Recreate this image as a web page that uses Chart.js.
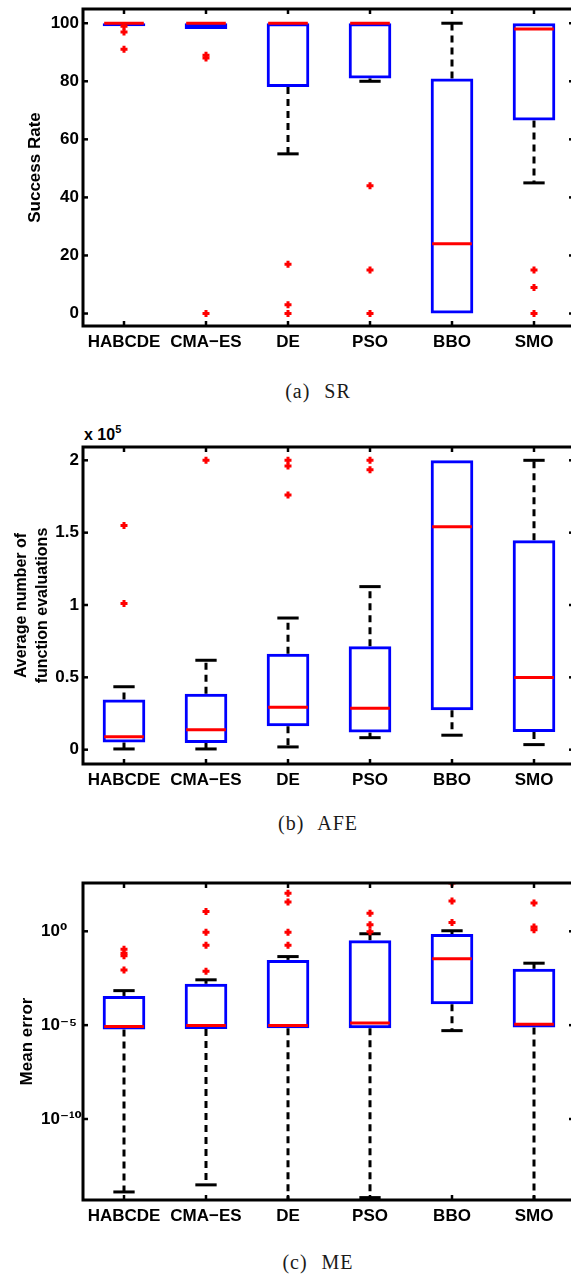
<!DOCTYPE html>
<html><head><meta charset="utf-8">
<script src="https://cdn.jsdelivr.net/npm/chart.js@4.4.0/dist/chart.umd.min.js"></script>
<style>
html,body{margin:0;padding:0;width:571px;height:1277px;overflow:hidden;background:#fff;position:relative;}
canvas{position:absolute;left:0;}
.cap{position:absolute;left:218px;width:200px;text-align:center;font-family:'Liberation Serif','Times New Roman',serif;font-size:20px;line-height:20px;color:#1a1a1a;letter-spacing:1px;word-spacing:8px;white-space:nowrap;}
.mult{position:absolute;left:84px;top:427px;font-family:'Liberation Sans',Arial,sans-serif;font-weight:bold;font-size:16px;line-height:16px;white-space:nowrap;color:#000;}
.mult sup{font-size:11px;position:relative;top:-7px;vertical-align:baseline;}
</style></head><body>
<canvas id="c1" width="576" height="362" style="top:4px;width:576px;height:362px"></canvas>
<div class="cap" style="top:381px">(a) SR</div>
<div class="mult">x 10<sup>5</sup></div>
<canvas id="c2" width="576" height="362" style="top:442px;width:576px;height:362px"></canvas>
<div class="cap" style="top:813px">(b) AFE</div>
<canvas id="c3" width="576" height="362" style="top:878px;width:576px;height:362px"></canvas>
<div class="cap" style="top:1252px">(c) ME</div>
<script>
const categories = ['HABCDE', 'CMA\u2212ES', 'DE', 'PSO', 'BBO', 'SMO'];

// (a) Success Rate
const srLowWhisker  = [100, 98, 55, 80, 0, 45];
const srQ1          = [99, 98, 78, 81, 0, 66.5];
const srMedian      = [100, 100, 100, 100, 24, 98];
const srQ3          = [100, 100, 100, 100, 81, 100];
const srHighWhisker = [100, 100, 100, 100, 100, 100];
const srOutliers    = [[99, 97, 91], [89, 88, 0], [17, 3, 0], [44, 15, 0], [], [15, 9, 0]];
const srTicks       = [0, 20, 40, 60, 80, 100];
const srTickLabels  = ['0', '20', '40', '60', '80', '100'];

// (b) Average number of function evaluations (x 10^5)
const afeLowWhisker  = [0.005, 0.005, 0.019, 0.083, 0.10, 0.035];
const afeQ1          = [0.05, 0.046, 0.162, 0.118, 0.272, 0.122];
const afeMedian      = [0.09, 0.138, 0.293, 0.286, 1.541, 0.498];
const afeQ3          = [0.346, 0.387, 0.663, 0.715, 2.0, 1.447];
const afeHighWhisker = [0.435, 0.618, 0.91, 1.127, 2.0, 2.0];
const afeOutliers    = [[1.55, 1.01], [2.0], [2.0, 1.96, 1.76], [2.0, 1.935], [], []];
const afeTicks       = [0, 0.5, 1, 1.5, 2];
const afeTickLabels  = ['0', '0.5', '1', '1.5', '2'];

// (c) Mean error (log scale)
const meLowWhisker  = [1.3e-14, 3.1e-14, 1e-15, 6.5e-15, 5.1e-6, 1e-15];
const meQ1          = [5.9e-6, 6.3e-6, 6.9e-6, 6.9e-6, 1.3e-4, 7.4e-6];
const meMedian      = [8.5e-6, 9.5e-6, 9.5e-6, 1.3e-5, 0.035, 1.1e-5];
const meQ3          = [3.6e-4, 1.6e-3, 0.03, 0.33, 0.72, 0.01];
const meHighWhisker = [6.9e-4, 2.6e-3, 0.045, 0.74, 1.07, 0.02];
const meOutliers    = [[0.11, 0.068, 0.05, 0.0087], [11.5, 0.89, 0.18, 0.0074], [105, 36, 0.89, 0.18], [9.1, 2.2, 0.95], [370, 41, 2.9], [32, 1.7, 1.2]];
const meTicks       = [1e-10, 1e-5, 1];
const meTickLabels  = ['10\u207B\u00B9\u2070', '10\u207B\u2075', '10\u2070'];

const FONT = "'Liberation Sans', Arial, 'DejaVu Sans', sans-serif";

function buildChart(id, cfg) {
  const axisFont = {family: FONT, size: 17, weight: 'bold'};
  const padLeft = cfg.padLeft || 0;
  const boxParts = {
    id: 'boxParts' + id,
    beforeDatasetsDraw(chart) {
      const ctx = chart.ctx, xs = chart.scales.x, ys = chart.scales.y, ca = chart.chartArea;
      const meta = chart.getDatasetMeta(0);
      ctx.save();
      ctx.beginPath(); ctx.rect(ca.left, ca.top, ca.right - ca.left, ca.bottom - ca.top); ctx.clip();
      ctx.strokeStyle = '#000'; ctx.lineWidth = 3; ctx.lineCap = 'butt';
      cfg.low.forEach((lo, i) => {
        const x = xs.getPixelForValue(i);
        const capHalf = meta.data[i].width / 4;
        const yLo = ys.getPixelForValue(lo), yQ1 = ys.getPixelForValue(cfg.q1[i]);
        const yQ3 = ys.getPixelForValue(cfg.q3[i]), yHi = ys.getPixelForValue(cfg.high[i]);
        ctx.setLineDash([7, 5]);
        if (cfg.high[i] > cfg.q3[i]) { ctx.beginPath(); ctx.moveTo(x, yQ3); ctx.lineTo(x, yHi); ctx.stroke(); }
        if (lo < cfg.q1[i]) { ctx.beginPath(); ctx.moveTo(x, yQ1); ctx.lineTo(x, yLo); ctx.stroke(); }
        ctx.setLineDash([]);
        if (cfg.high[i] > cfg.q3[i]) { ctx.beginPath(); ctx.moveTo(x - capHalf, yHi); ctx.lineTo(x + capHalf, yHi); ctx.stroke(); }
        if (lo < cfg.q1[i]) { ctx.beginPath(); ctx.moveTo(x - capHalf, yLo); ctx.lineTo(x + capHalf, yLo); ctx.stroke(); }
      });
      ctx.restore();
    },
    afterDatasetDraw(chart, args) {
      if (args.index !== 0) return;
      const ctx = chart.ctx, xs = chart.scales.x, ys = chart.scales.y;
      const meta = chart.getDatasetMeta(0);
      ctx.save();
      ctx.strokeStyle = '#ff0000'; ctx.lineWidth = 3;
      cfg.med.forEach((m, i) => {
        const x = xs.getPixelForValue(i), half = meta.data[i].width / 2 - 1.5;
        const y = ys.getPixelForValue(m);
        ctx.beginPath(); ctx.moveTo(x - half, y); ctx.lineTo(x + half, y); ctx.stroke();
      });
      ctx.restore();
    },
    afterDraw(chart) {
      const ctx = chart.ctx, xs = chart.scales.x, ys = chart.scales.y, ca = chart.chartArea;
      ctx.save();
      ctx.strokeStyle = '#000'; ctx.lineWidth = 3; ctx.lineCap = 'square';
      ctx.beginPath();
      ctx.moveTo(ca.right + 2, ca.top); ctx.lineTo(ca.left, ca.top);
      ctx.lineTo(ca.left, ca.bottom); ctx.lineTo(ca.right + 2, ca.bottom);
      ctx.stroke();
      ctx.lineCap = 'butt'; ctx.lineWidth = 2.5;
      xs.ticks.forEach((t, i) => {
        const x = xs.getPixelForTick(i);
        ctx.beginPath(); ctx.moveTo(x, ca.bottom); ctx.lineTo(x, ca.bottom - 5); ctx.stroke();
        ctx.beginPath(); ctx.moveTo(x, ca.top); ctx.lineTo(x, ca.top + 5); ctx.stroke();
      });
      ys.ticks.forEach(t => {
        const y = ys.getPixelForValue(t.value);
        ctx.beginPath(); ctx.moveTo(ca.left, y); ctx.lineTo(ca.left + 5, y); ctx.stroke();
        ctx.beginPath(); ctx.moveTo(ca.right, y); ctx.lineTo(ca.right - 6, y); ctx.stroke();
      });
      ctx.restore();
    }
  };
  return new Chart(document.getElementById(id), {
    type: 'bar',
    data: {
      labels: categories,
      datasets: [
        {
          type: 'bar',
          data: cfg.q1.map((v, i) => [v, cfg.q3[i]]),
          borderColor: '#0000ff', backgroundColor: 'rgba(0,0,0,0)',
          borderWidth: 3, borderSkipped: false, inflateAmount: 0,
          barPercentage: 0.52, categoryPercentage: 1, order: 2
        },
        {
          type: 'scatter',
          data: cfg.out.flatMap((arr, i) => arr.map(v => ({x: categories[i], y: v}))),
          pointStyle: 'cross', radius: 3.5, borderWidth: 3,
          borderColor: '#ff0000', backgroundColor: '#ff0000', order: 1
        }
      ]
    },
    options: {
      responsive: false, animation: false, events: [], devicePixelRatio: 1,
      layout: {autoPadding: false, padding: {top: 5, right: 1, left: padLeft, bottom: 0}},
      plugins: {legend: {display: false}, tooltip: {enabled: false}},
      scales: {
        x: {
          type: 'category', offset: true,
          grid: {display: false, drawTicks: false, tickLength: 0}, border: {display: false},
          ticks: {font: axisFont, color: '#000', padding: 6, maxRotation: 0, minRotation: 0, autoSkip: false},
          afterFit: s => { s.height = 40; s.paddingLeft = 0; s.paddingRight = 0; }
        },
        y: {
          type: cfg.yType, min: cfg.min, max: cfg.max,
          grid: {display: false, drawTicks: false, tickLength: 0}, border: {display: false},
          ticks: {font: axisFont, color: '#000', padding: 4, autoSkip: false,
                  crossAlign: cfg.crossAlign || 'near',
                  callback: (v, i) => cfg.tickLabels[i]},
          afterBuildTicks: s => { s.ticks = cfg.ticks.map(v => ({value: v})); },
          afterFit: s => { s.width = 83 - padLeft; s.paddingTop = 0; s.paddingBottom = 0; },
          title: {display: true, text: cfg.title, color: '#000',
                  font: {family: FONT, size: cfg.titleSize, weight: 'bold', lineHeight: cfg.titleLH},
                  padding: {top: cfg.titlePad, bottom: 0}}
        }
      }
    },
    plugins: [boxParts]
  });
}

buildChart('c1', {
  low: srLowWhisker, q1: srQ1, med: srMedian, q3: srQ3, high: srHighWhisker, out: srOutliers,
  yType: 'linear', min: -4.3, max: 104.9, ticks: srTicks, tickLabels: srTickLabels,
  title: 'Success Rate', titleSize: 17, titleLH: 1.2, titlePad: 25
});
buildChart('c2', {
  low: afeLowWhisker, q1: afeQ1, med: afeMedian, q3: afeQ3, high: afeHighWhisker, out: afeOutliers,
  yType: 'linear', min: -0.099, max: 2.092, ticks: afeTicks, tickLabels: afeTickLabels,
  title: ['Average number of', 'function evaluations'], titleSize: 16, titleLH: 1.3125, titlePad: 11
});
buildChart('c3', {
  low: meLowWhisker, q1: meQ1, med: meMedian, q3: meQ3, high: meHighWhisker, out: meOutliers,
  yType: 'logarithmic', min: Math.pow(10, -14.315), max: Math.pow(10, 2.573), ticks: meTicks, tickLabels: meTickLabels,
  crossAlign: 'far', padLeft: 41,
  title: 'Mean error', titleSize: 17, titleLH: 1.2, titlePad: -24
});
</script>
</body></html>
